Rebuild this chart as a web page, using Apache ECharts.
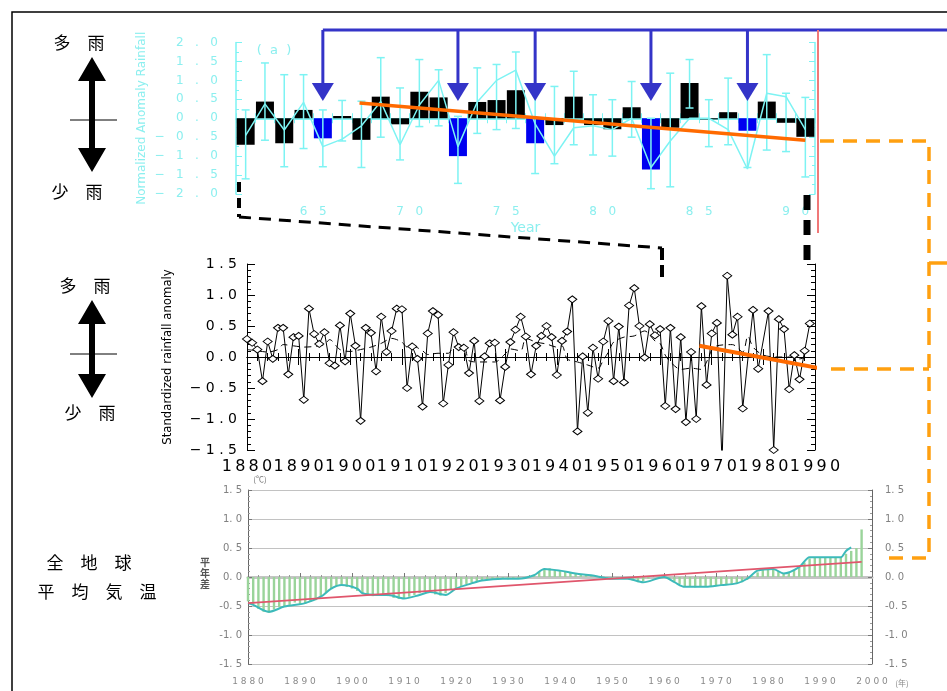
<!DOCTYPE html>
<html>
<head>
<meta charset="utf-8">
<title>多雨・少雨と全地球平均気温</title>
<script src="https://cdn.jsdelivr.net/npm/echarts@6/dist/echarts.min.js"></script>
<style>
html,body{margin:0;padding:0;background:#fff;}
#main{width:947px;height:691px;}
</style>
</head>
<body>
<div id="main"></div>
<script>
// ---- (a) 上段: 1961-1990 規格化降水量偏差 ----
var aYears = [];
for (var y = 1961; y <= 1990; y++) aYears.push(y);
var aBars  = [-0.70, 0.44, -0.66, 0.22, -0.53, 0.06, -0.57, 0.57, -0.16, 0.70,
               0.55, -1.00, 0.43, 0.48, 0.74, -0.66, -0.18, 0.57, -0.18, -0.29,
               0.29, -1.35, -0.25, 0.93, -0.03, 0.16, -0.33, 0.44, -0.12, -0.49];
var aBlue  = [1965, 1972, 1976, 1982, 1987];
var aLine  = [-0.45, 0.38, -0.31, 0.42, -0.75, -0.55, -0.20, 0.44, -0.70, 0.35,
               1.00, -0.75, 0.43, 1.00, 1.27, -0.15, -1.00, -0.25, -0.20, -0.30,
               0.00, -1.30, -0.60, 0.00, 0.00, -0.30, -1.34, 0.66, 0.57, -0.30];
var aErrHi = [0.22, 1.46, 1.15, 1.15, 0.22, 0.47, 0.45, 1.60, 0.80, 1.55,
              1.28, 0.05, 1.33, 1.42, 1.75, 0.90, 0.84, 1.24, 0.62, 0.49,
              0.97, 0.00, 1.19, 1.55, 0.49, 1.06, 0.66, 1.68, 0.66, 0.55];
var aErrLo = [-1.60, -0.58, -1.28, -0.80, -1.28, -0.60, -1.30, -0.50, -1.10, -0.22,
              -0.20, -1.72, -0.40, -0.30, -0.27, -1.46, -1.20, -0.70, -0.97, -1.00,
              -0.50, -1.86, -1.81, 0.27, -0.75, -0.70, -1.30, -0.84, -0.88, -1.55];
var aTrend = [[1967.4, 0.40], [1990.5, -0.58]];
var aLabelYears = [1965, 1970, 1975, 1980, 1985, 1990];

// ---- 中段: 1880-1989 Standardized rainfall anomaly ----
var rYears = [];
for (var y = 1880; y <= 1976; y++) rYears.push(y);
rYears = rYears.concat([1978, 1979, 1981, 1982, 1983, 1984, 1985, 1986, 1987, 1988, 1989]);
var rVals = [
  0.29, 0.23, 0.12, -0.39, 0.25, -0.03, 0.47, 0.47, -0.28, 0.32,
  0.34, -0.69, 0.78, 0.37, 0.21, 0.40, -0.10, -0.14, 0.51, -0.07,
  0.70, 0.18, -1.03, 0.47, 0.39, -0.23, 0.65, 0.08, 0.42, 0.78,
  0.77, -0.50, 0.17, -0.03, -0.80, 0.38, 0.74, 0.68, -0.75, -0.13,
  0.40, 0.16, 0.15, -0.26, 0.26, -0.71, 0.01, 0.22, 0.23, -0.70,
  -0.16, 0.24, 0.44, 0.65, 0.33, -0.28, 0.18, 0.34, 0.50, 0.32,
  -0.29, 0.26, 0.41, 0.93, -1.20, 0.01, -0.90, 0.15, -0.35, 0.25,
  0.58, -0.39, 0.49, -0.41, 0.83, 1.11, 0.50, -0.01, 0.53, 0.35,
  0.45, -0.79, 0.47, -0.84, 0.32, -1.05, 0.08, -1.00, 0.82, -0.45,
  0.38, 0.55, -1.70, 1.31, 0.36, 0.65, -0.83,
  0.76, -0.19, 0.74, -1.50, 0.61, 0.45, -0.52, 0.03, -0.36, 0.10, 0.54];
var sYears = [1880, 1882, 1884, 1886, 1887, 1889, 1891, 1893, 1895, 1896, 1898, 1900, 1902, 1904,
              1906, 1908, 1910, 1911, 1912, 1914, 1915, 1917, 1919, 1920, 1922, 1923, 1925, 1928,
              1930, 1931, 1933, 1934, 1936, 1938, 1940, 1941, 1942, 1944, 1946, 1948, 1949, 1950,
              1951, 1953, 1955, 1957, 1959, 1960, 1961, 1962, 1964, 1966, 1968, 1969, 1970, 1971,
              1974, 1976, 1977, 1978, 1980, 1983, 1985, 1987, 1989];
var sVals  = [0.12, 0.10, 0.08, 0.12, 0.20, 0.18, 0.16, 0.17, 0.20, 0.28, 0.12, 0.09, 0.12, 0.16,
              0.22, 0.30, 0.24, 0.16, 0.18, 0.10, 0.04, 0.06, 0.06, 0.16, 0.17, -0.06, -0.08, -0.08,
              0.05, 0.13, 0.10, 0.30, 0.24, 0.21, 0.16, 0.18, -0.03, -0.08, -0.13, -0.18, -0.05, 0.08,
              0.24, 0.32, 0.34, 0.42, 0.26, 0.22, 0.03, -0.08, -0.20, -0.18, -0.20, -0.08, 0.11, 0.18,
              0.20, 0.08, 0.34, 0.16, 0.03, 0.00, 0.00, -0.03, 0.02];
var rTrend = [[1967.6, 0.18], [1992.8, -0.21]];

// ---- 下段: 全地球平均気温 平年差 (℃) ----
var tYears = [];
for (var y = 1880; y <= 1998; y++) tYears.push(y);
var tVals = [
  -0.42, -0.47, -0.55, -0.60, -0.62, -0.56, -0.52, -0.50, -0.48, -0.44,
  -0.47, -0.46, -0.43, -0.40, -0.34, -0.28, -0.21, -0.16, -0.13, -0.17,
  -0.20, -0.24, -0.28, -0.30, -0.33, -0.31, -0.30, -0.33, -0.36, -0.38,
  -0.37, -0.34, -0.31, -0.28, -0.26, -0.27, -0.30, -0.32, -0.28, -0.22,
  -0.20, -0.16, -0.12, -0.10, -0.08, -0.06, -0.05, -0.04, -0.03, -0.03,
  -0.04, -0.03, -0.02, -0.01, 0.02, 0.04, 0.09, 0.14, 0.15, 0.12,
  0.11, 0.09, 0.07, 0.06, 0.05, 0.04, 0.03, 0.02, 0.00, -0.02,
  -0.03, -0.03, -0.02, -0.03, -0.06, -0.09, -0.07, -0.03, 0.00, 0.01,
  0.00, -0.04, -0.08, -0.12, -0.16, -0.17, -0.18, -0.17, -0.17, -0.16,
  -0.15, -0.14, -0.13, -0.12, -0.11, -0.09, -0.05, 0.02, 0.08, 0.12,
  0.14, 0.14, 0.10, 0.06, 0.08, 0.12, 0.17, 0.25, 0.32, 0.34,
  0.34, 0.34, 0.33, 0.33, 0.34, 0.40, 0.45, 0.50, 0.82];
var tSmYears = [1880, 1881, 1884, 1887, 1891, 1894, 1896, 1898, 1901, 1902, 1905, 1907, 1910, 1913,
                1915, 1918, 1920, 1923, 1925, 1929, 1932, 1935, 1937, 1940, 1943, 1946, 1950, 1953,
                1956, 1960, 1962, 1964, 1968, 1971, 1974, 1976, 1978, 1981, 1983, 1986, 1988, 1990,
                1992, 1994, 1995, 1996];
var tSmVals  = [-0.45, -0.48, -0.60, -0.51, -0.45, -0.34, -0.20, -0.14, -0.20, -0.28, -0.31, -0.31, -0.37, -0.31,
                -0.26, -0.31, -0.20, -0.11, -0.06, -0.03, -0.03, 0.03, 0.14, 0.11, 0.06, 0.03, -0.03, -0.03,
                -0.09, 0.00, -0.09, -0.17, -0.17, -0.14, -0.11, -0.03, 0.11, 0.14, 0.06, 0.17, 0.34, 0.34,
                0.34, 0.34, 0.45, 0.51];
var tTrend = [[1880, -0.45], [1998, 0.26]];

var CY = '#7df3f3';
var CYT = '#8cefef';
var BLUE = '#0000f0';
var ORANGE = '#ff6a00';
var ORANGE2 = '#ffa010';
var CJK = "'Noto Sans CJK JP', sans-serif";

function fmt(v) { return (v < 0 ? '\u2212' : '') + Math.abs(v).toFixed(1); }
function spaced(s, sep) { return String(s).split('').join(sep); }
function jpFmt(v) { return (v < 0 ? '-' : '') + Math.abs(v).toFixed(1).replace('.', '. '); }

var chart = echarts.init(document.getElementById('main'));

var tickYears = [];
for (var y = 1961; y <= 1991; y++) tickYears.push(y);

var GRIDLINE = {show: true, lineStyle: {color: '#c2c2c2', width: 1}};

var option = {
  animation: false,
  backgroundColor: '#fff',
  grid: [
    {left: 236, top: 42.5, width: 579, height: 151.5, outerBoundsMode: 'none'},
    {left: 247, top: 264, width: 568, height: 186, outerBoundsMode: 'none'},
    {left: 248, top: 490, width: 624, height: 174, outerBoundsMode: 'none'}
  ],
  xAxis: [
    {gridIndex: 0, type: 'value', min: 1961, max: 1991, position: 'bottom',
     axisLine: {lineStyle: {color: CY, width: 1.5}},
     axisTick: {inside: true, length: 5, customValues: tickYears, lineStyle: {color: CY}},
     axisLabel: {customValues: aLabelYears, color: CYT, fontSize: 12, fontFamily: 'DejaVu Sans', margin: 12,
                 hideOverlap: false, formatter: function (v) { return spaced(v % 100, '   '); }},
     splitLine: {show: false},
     name: 'Year', nameLocation: 'middle', nameGap: 27, nameMoveOverlap: false,
     nameTextStyle: {color: CYT, fontSize: 14, fontFamily: 'DejaVu Sans'}},
    {gridIndex: 0, type: 'value', min: 1961, max: 1991, position: 'top',
     axisLine: {lineStyle: {color: CY, width: 1.5}},
     axisTick: {inside: true, length: 5, customValues: tickYears, lineStyle: {color: CY}},
     axisLabel: {show: false}, splitLine: {show: false}},
    {gridIndex: 1, type: 'value', min: 1880, max: 1990, interval: 10, position: 'bottom',
     axisLine: {lineStyle: {color: '#000', width: 1}},
     axisTick: {inside: true, length: 8, lineStyle: {color: '#000'}},
     minorTick: {show: true, splitNumber: 5, length: 4, lineStyle: {color: '#000'}},
     axisLabel: {color: '#000', fontSize: 16, fontFamily: 'DejaVu Sans', margin: 9, hideOverlap: false,
                 showMinLabel: true, showMaxLabel: true,
                 formatter: function (v) { return spaced(v, '\u2009'); }},
     splitLine: {show: false}},
    {gridIndex: 1, type: 'value', min: 1880, max: 1990, interval: 10, position: 'top',
     axisLine: {lineStyle: {color: '#000', width: 1}},
     axisTick: {inside: true, length: 8, lineStyle: {color: '#000'}},
     minorTick: {show: true, splitNumber: 5, length: 4, lineStyle: {color: '#000'}},
     axisLabel: {show: false}, splitLine: {show: false}},
    {gridIndex: 2, type: 'value', min: 1880, max: 2000, interval: 10, position: 'bottom',
     axisLine: {lineStyle: {color: '#666', width: 1}},
     axisTick: {inside: true, length: 4, lineStyle: {color: '#777'}},
     minorTick: {show: true, splitNumber: 5, length: 2, lineStyle: {color: '#999'}},
     axisLabel: {color: '#8a8a8a', fontSize: 9, fontFamily: 'DejaVu Sans', margin: 13, hideOverlap: false,
                 showMinLabel: true, showMaxLabel: true,
                 formatter: function (v) { return spaced(v, ' '); }},
     splitLine: {show: false}},
    {gridIndex: 2, type: 'value', min: 1880, max: 2000, interval: 10, position: 'top',
     axisLine: {lineStyle: {color: '#c4c4c4', width: 3}},
     axisTick: {show: false}, axisLabel: {show: false}, splitLine: {show: false}}
  ],
  yAxis: [
    {gridIndex: 0, type: 'value', min: -2, max: 2, interval: 0.5, position: 'left',
     axisLine: {show: true, lineStyle: {color: CY, width: 1.5}},
     axisTick: {show: true, inside: true, length: 6, lineStyle: {color: CY}},
     minorTick: {show: true, splitNumber: 2, length: 3, lineStyle: {color: CY}},
     axisLabel: {color: CYT, fontSize: 12, fontFamily: 'DejaVu Sans', margin: 18, hideOverlap: false,
                 showMinLabel: true, showMaxLabel: true,
                 formatter: function (v) { return spaced(fmt(v), '   '); }},
     splitLine: {show: false},
     name: 'Normalized Anomaly Rainfall', nameLocation: 'middle', nameGap: 88, nameRotate: 90,
     nameMoveOverlap: false,
     nameTextStyle: {color: CYT, fontSize: 12, fontFamily: 'DejaVu Sans'}},
    {gridIndex: 0, type: 'value', min: -2, max: 2, interval: 0.5, position: 'right',
     axisLine: {show: true, lineStyle: {color: CY, width: 1.5}},
     axisTick: {show: true, inside: true, length: 6, lineStyle: {color: CY}},
     minorTick: {show: true, splitNumber: 2, length: 3, lineStyle: {color: CY}},
     axisLabel: {show: false}, splitLine: {show: false}},
    {gridIndex: 1, type: 'value', min: -1.5, max: 1.5, interval: 0.5, position: 'left',
     axisLine: {show: true, lineStyle: {color: '#000', width: 1}},
     axisTick: {show: true, inside: true, length: 8, lineStyle: {color: '#000'}},
     minorTick: {show: true, splitNumber: 5, length: 4, lineStyle: {color: '#000'}},
     axisLabel: {color: '#000', fontSize: 14, fontFamily: 'DejaVu Sans', margin: 10, hideOverlap: false,
                 showMinLabel: true, showMaxLabel: true,
                 formatter: function (v) { return spaced(fmt(v), ' '); }},
     splitLine: {show: false},
     name: 'Standardized rainfall anomaly', nameLocation: 'middle', nameGap: 73, nameRotate: 90,
     nameMoveOverlap: false,
     nameTextStyle: {color: '#000', fontSize: 13,
                     fontFamily: "'Liberation Sans Narrow', 'DejaVu Sans Condensed', sans-serif"}},
    {gridIndex: 1, type: 'value', min: -1.5, max: 1.5, interval: 0.5, position: 'right',
     axisLine: {show: true, lineStyle: {color: '#000', width: 1}},
     axisTick: {show: true, inside: true, length: 8, lineStyle: {color: '#000'}},
     minorTick: {show: true, splitNumber: 5, length: 4, lineStyle: {color: '#000'}},
     axisLabel: {show: false}, splitLine: {show: false}},
    {gridIndex: 2, type: 'value', min: -1.5, max: 1.5, interval: 0.5, position: 'left',
     axisLine: {show: true, lineStyle: {color: '#666', width: 1}},
     axisTick: {show: true, inside: true, length: 4, lineStyle: {color: '#777'}},
     minorTick: {show: true, splitNumber: 5, length: 2, lineStyle: {color: '#999'}},
     axisLabel: {color: '#808080', fontSize: 10, fontFamily: 'DejaVu Sans', margin: 6, hideOverlap: false,
                 showMinLabel: true, showMaxLabel: true, formatter: jpFmt},
     splitLine: GRIDLINE},
    {gridIndex: 2, type: 'value', min: -1.5, max: 1.5, interval: 0.5, position: 'right',
     axisLine: {show: true, lineStyle: {color: '#666', width: 1}},
     axisTick: {show: true, inside: true, length: 4, lineStyle: {color: '#777'}},
     minorTick: {show: true, splitNumber: 5, length: 2, lineStyle: {color: '#999'}},
     axisLabel: {color: '#808080', fontSize: 10, fontFamily: 'DejaVu Sans', margin: 13, hideOverlap: false,
                 showMinLabel: true, showMaxLabel: true, formatter: jpFmt},
     splitLine: GRIDLINE}
  ],
  series: [
    // (a) bars
    {type: 'bar', xAxisIndex: 0, yAxisIndex: 0, barWidth: 18, z: 2,
     data: aYears.map(function (yr, i) {
       return {value: [yr + 0.5, aBars[i]],
               itemStyle: {color: aBlue.indexOf(yr) >= 0 ? BLUE : '#000'}};
     })},
    // (a) error bars
    {type: 'custom', xAxisIndex: 0, yAxisIndex: 0, z: 3,
     data: aYears.map(function (yr, i) { return [yr + 0.5, aErrLo[i], aErrHi[i]]; }),
     encode: {x: 0, y: [1, 2]},
     renderItem: function (params, api) {
       var x = api.value(0);
       var lo = api.coord([x, api.value(1)]);
       var hi = api.coord([x, api.value(2)]);
       var c = 4, st = {stroke: CY, lineWidth: 1.5};
       return {type: 'group', children: [
         {type: 'line', shape: {x1: lo[0], y1: lo[1], x2: hi[0], y2: hi[1]}, style: st},
         {type: 'line', shape: {x1: lo[0] - c, y1: lo[1], x2: lo[0] + c, y2: lo[1]}, style: st},
         {type: 'line', shape: {x1: hi[0] - c, y1: hi[1], x2: hi[0] + c, y2: hi[1]}, style: st}
       ]};
     }},
    // (a) cyan line
    {type: 'line', xAxisIndex: 0, yAxisIndex: 0, z: 3, showSymbol: false,
     data: aYears.map(function (yr, i) { return [yr + 0.5, aLine[i]]; }),
     lineStyle: {color: CY, width: 1.5}},
    // (a) trend
    {type: 'line', xAxisIndex: 0, yAxisIndex: 0, z: 5, showSymbol: false, data: aTrend,
     lineStyle: {color: ORANGE, width: 3.5}},
    // middle: annual anomaly
    {type: 'line', xAxisIndex: 2, yAxisIndex: 2, z: 3, clip: true,
     data: rYears.map(function (yr, i) { return [yr, rVals[i]]; }),
     symbol: 'diamond', symbolSize: [9, 7],
     itemStyle: {color: '#fff', borderColor: '#000', borderWidth: 1},
     lineStyle: {color: '#000', width: 1}},
    // middle: smoothed dashed
    {type: 'line', xAxisIndex: 2, yAxisIndex: 2, z: 2, showSymbol: false, smooth: 0.3,
     data: sYears.map(function (yr, i) { return [yr, sVals[i]]; }),
     lineStyle: {color: '#000', width: 1, type: [7, 5]}},
    // middle: trend
    {type: 'line', xAxisIndex: 2, yAxisIndex: 2, z: 5, showSymbol: false, clip: false, data: rTrend,
     lineStyle: {color: ORANGE, width: 4}},
    // bottom: annual bars
    {type: 'bar', xAxisIndex: 4, yAxisIndex: 4, barWidth: 2.4, z: 2,
     data: tYears.map(function (yr, i) { return [yr, tVals[i]]; }),
     itemStyle: {color: '#9ad49a'}},
    // bottom: smoothed
    {type: 'line', xAxisIndex: 4, yAxisIndex: 4, z: 3, showSymbol: false, smooth: 0.3,
     data: tSmYears.map(function (yr, i) { return [yr, tSmVals[i]]; }),
     lineStyle: {color: '#3cbaba', width: 2}},
    // bottom: trend
    {type: 'line', xAxisIndex: 4, yAxisIndex: 4, z: 4, showSymbol: false, data: tTrend,
     lineStyle: {color: '#e0566c', width: 1.6}}
  ]
};
chart.setOption(option);

// ---- 注記 (矢印・文字・補助線) ----
var G = [];
function txt(x, y, s, size, extra) {
  G.push({type: 'text', z: 100, style: Object.assign({
    text: s, x: x, y: y, align: 'center', verticalAlign: 'middle',
    fill: '#000', fontSize: size, fontFamily: CJK}, extra || {})});
}
function seg(pts, color, w, dash) {
  G.push({type: 'polyline', z: 90, shape: {points: pts},
          style: {stroke: color, lineWidth: w, fill: null, lineDash: dash || null}});
}
function dblArrow(cx, t, b) {
  var h = 24, hw = 14, sw = 3;
  G.push({type: 'polygon', z: 100, shape: {points: [
    [cx, t], [cx + hw, t + h], [cx + sw, t + h], [cx + sw, b - h], [cx + hw, b - h], [cx, b],
    [cx - hw, b - h], [cx - sw, b - h], [cx - sw, t + h], [cx - hw, t + h]]}, style: {fill: '#000'}});
}

// 外枠
seg([[12, 691], [12, 12], [947, 12]], '#000', 1.5);

txt(79, 43, '多　雨', 17);
txt(77, 192, '少　雨', 17);
dblArrow(92, 57, 172);
seg([[70, 120], [117, 120]], '#000', 1);

txt(85, 286, '多　雨', 17);
txt(90, 413, '少　雨', 17);
dblArrow(92, 300, 398);
seg([[70, 354], [117, 354]], '#000', 1);

txt(89, 563, '全　地　球', 17);
txt(97, 592, '平　均　気　温', 17);

txt(274, 51, '(  a  )', 13, {fill: CYT, fontFamily: 'DejaVu Sans'});
txt(260, 479, '(℃)', 8, {fill: '#777'});
txt(205, 573, '平\n年\n差', 10, {fill: '#555', fontWeight: 'bold', lineHeight: 11});
txt(902, 683, '(年)', 8, {fill: '#8a8a8a'});

// 青い矢印 (少雨年)
var blueX = aBlue.map(function (yr) { return chart.convertToPixel({xAxisIndex: 0}, yr + 0.5); });
seg([[blueX[0], 30], [947, 30]], '#3434c8', 3);
blueX.forEach(function (x) {
  seg([[x, 30], [x, 84]], '#3434c8', 3);
  G.push({type: 'polygon', z: 100, shape: {points: [[x - 11, 83], [x + 11, 83], [x, 101]]},
          style: {fill: '#3434c8'}});
});

// 赤線
seg([[818, 30], [818, 233]], '#f07878', 2);

// 黒い破線 (拡大範囲)
seg([[239, 182], [239, 217]], '#000', 4, [10, 6]);
seg([[239, 217], [662, 248]], '#000', 3, [12, 8]);
seg([[662, 248], [662, 280]], '#000', 4, [12, 5]);
seg([[807, 195], [807, 263]], '#000', 7, [15, 10]);

// オレンジ破線
seg([[820, 141], [929, 141], [929, 558], [880, 558]], ORANGE2, 3.5, [14, 9]);
seg([[831, 369], [929, 369]], ORANGE2, 3.5, [14, 9]);
seg([[929, 263], [947, 263]], ORANGE2, 3.5);

chart.setOption({graphic: G});
</script>
</body>
</html>
